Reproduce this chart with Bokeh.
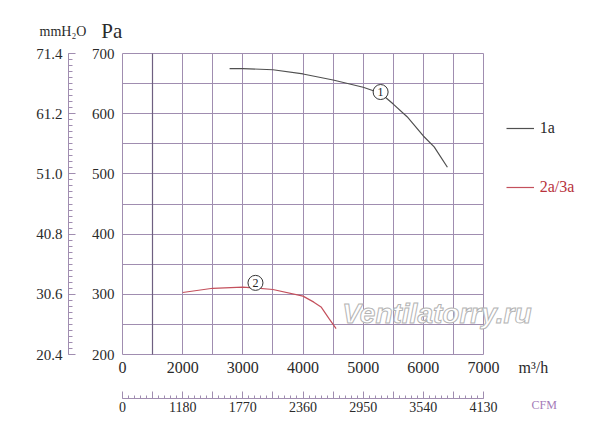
from bokeh.plotting import figure
from bokeh.models import (Range1d, LinearAxis, FixedTicker, Grid, Label, Legend,
                          LegendItem, PrintfTickFormatter)
from bokeh.core.properties import value
from bokeh.embed import file_html
from bokeh.resources import INLINE

# ---- data ----
flow1 = [2780, 3000, 3500, 4000, 4500, 5000, 5290, 5500, 5730, 6000, 6180, 6400]
pa1 = [675, 675, 673, 666, 656, 644, 634, 616, 595, 563, 545, 511]

flow2 = [2000, 2500, 3000, 3500, 4000, 4180, 4300, 4430, 4550]
pa2 = [303, 310, 312, 308, 297, 287, 279, 260, 243]

mark_flow = [5290, 3210]
mark_pa = [636, 319]
mark_text = ["1", "2"]

flow_ticks = [1000, 2000, 3000, 4000, 5000, 6000, 7000]
flow_labels = ["0", "2000", "3000", "4000", "5000", "6000", "7000"]
pa_ticks = [200, 300, 400, 500, 600, 700]
mm_ticks = [20.4, 30.6, 40.8, 51.0, 61.2, 71.4]
cfm_ticks = [590, 1180, 1770, 2360, 2950, 3540, 4130]
cfm_labels = ["0", "1180", "1770", "2360", "2950", "3540", "4130"]

series_names = ["1a", "2a/3a"]
unit_flow = "m\u00b3/h"
unit_cfm = "CFM"
unit_mm = "mmH\u2082O"
unit_pa = "Pa"

# ---- layout / style ----
W, H = 584, 426
BL, BT, BB = 121, 52, 71
GRID_W_PX, GRID_H_PX = 361, 301      # pixel size of the gridded box
FRAME_W = W - BL                     # frame runs to the right edge
kx = GRID_W_PX / (flow_ticks[-1] - flow_ticks[0])
ky = GRID_H_PX / (pa_ticks[-1] - pa_ticks[0])
pad_x, pad_y = 1 / kx, 1 / ky        # one pixel of room round the box
x_start = flow_ticks[0] - pad_x
x_end = x_start + FRAME_W / kx
y_start, y_end = pa_ticks[0] - pad_y, pa_ticks[-1] + pad_y
cfm_per_flow = 0.59
mm_per_pa = 0.102
cfm_range = (cfm_ticks[0] + (x_start - flow_ticks[0]) * cfm_per_flow,
             cfm_ticks[0] + (x_end - flow_ticks[0]) * cfm_per_flow)
mm_range = (mm_ticks[0] - pad_y * mm_per_pa, mm_ticks[-1] + pad_y * mm_per_pa)

GRID = "#a08db0"
GRID_DARK = "#6e5f80"
TXT = "#2a2a2a"
SERIF = "Liberation Serif"
C1 = "#505050"
C2 = "#c4505c"

p = figure(width=W, height=H, output_backend="svg", toolbar_location=None,
           x_range=Range1d(x_start, x_end), y_range=Range1d(y_start, y_end),
           min_border_left=BL, min_border_right=0,
           min_border_top=BT, min_border_bottom=BB)
p.background_fill_color = "white"
p.border_fill_color = "white"
p.outline_line_color = None

p.extra_y_ranges = {"mm": Range1d(*mm_range)}
p.extra_x_ranges = {"cfm": Range1d(*cfm_range)}

# grids: every half step, limited to the chart box
half_flow = [flow_ticks[0] + 500 * i for i in range(13)]
half_pa = [pa_ticks[0] + 50 * i for i in range(11)]
xg, yg = p.xgrid[0], p.ygrid[0]
xg.ticker = FixedTicker(ticks=half_flow)
yg.ticker = FixedTicker(ticks=half_pa)
xg.bounds = (flow_ticks[0] - 1, flow_ticks[-1] + 1)
yg.bounds = (pa_ticks[0] - 1, pa_ticks[-1] + 1)
yg.cross_bounds = (flow_ticks[0], flow_ticks[-1])
xg.cross_bounds = (pa_ticks[0], pa_ticks[-1])
for g in (xg, yg):
    g.grid_line_color = GRID
    g.grid_line_width = 1
dark = Grid(dimension=0, ticker=FixedTicker(ticks=[half_flow[1]]),
            bounds=(flow_ticks[0], flow_ticks[-1]),
            cross_bounds=(pa_ticks[0], pa_ticks[-1]),
            grid_line_color=GRID_DARK, grid_line_width=1.2)
p.add_layout(dark)

# Pa axis (inner left)
ya = p.yaxis[0]
ya.ticker = FixedTicker(ticks=pa_ticks)
ya.axis_line_color = None
ya.major_tick_line_color = None
ya.minor_tick_line_color = None
ya.major_tick_out = 0
ya.major_tick_in = 0
ya.minor_tick_out = 0
ya.minor_tick_in = 0
ya.major_label_standoff = 7
ya.major_label_text_font = SERIF
ya.major_label_text_font_size = "15px"
ya.major_label_text_color = TXT
ya.axis_label = " "
ya.axis_label_text_font_size = "12px"
ya.axis_label_standoff = 3

# mmH2O axis (outer left)
mm_minor = [mm_ticks[0] + 1.02 * i for i in range(51)]
mm_axis = LinearAxis(y_range_name="mm", bounds=(mm_ticks[0], mm_ticks[-1]),
                     ticker=FixedTicker(ticks=mm_ticks, minor_ticks=mm_minor),
                     formatter=PrintfTickFormatter(format="%.1f"))
mm_axis.axis_line_color = GRID
mm_axis.major_tick_line_color = GRID
mm_axis.minor_tick_line_color = GRID
mm_axis.major_tick_out = 0
mm_axis.major_tick_in = 7
mm_axis.minor_tick_out = 0
mm_axis.minor_tick_in = 4
mm_axis.major_label_standoff = 6
mm_axis.major_label_text_font = SERIF
mm_axis.major_label_text_font_size = "15px"
mm_axis.major_label_text_color = TXT
p.add_layout(mm_axis, "left")

# m3/h axis (inner below), unit written as an extra label past the last tick
unit_tick = 7830
xa = p.xaxis[0]
xa.ticker = FixedTicker(ticks=flow_ticks + [unit_tick])
over = dict(zip(flow_ticks, flow_labels))
over[unit_tick] = unit_flow
xa.major_label_overrides = over
xa.axis_line_color = None
xa.major_tick_line_color = None
xa.minor_tick_line_color = None
xa.major_tick_out = 0
xa.major_tick_in = 0
xa.minor_tick_out = 0
xa.minor_tick_in = 0
xa.major_label_standoff = 3
xa.major_label_text_font = SERIF
xa.major_label_text_font_size = "16px"
xa.major_label_text_color = TXT
xa.axis_label = " "
xa.axis_label_text_font_size = "10px"
xa.axis_label_standoff = 6

# CFM axis (outer below)
cfm_major = [cfm_ticks[0] + 295 * i for i in range(13)]
cfm_minor = [cfm_ticks[0] + 59 * i for i in range(61)]
cfm_over = {t: "" for t in cfm_major}
cfm_over.update(dict(zip(cfm_ticks, cfm_labels)))
cfm_axis = LinearAxis(x_range_name="cfm", bounds=(cfm_ticks[0], cfm_ticks[-1]),
                      ticker=FixedTicker(ticks=cfm_major, minor_ticks=cfm_minor))
cfm_axis.major_label_overrides = cfm_over
cfm_axis.axis_line_color = GRID
cfm_axis.major_tick_line_color = GRID
cfm_axis.minor_tick_line_color = GRID
cfm_axis.major_tick_out = 0
cfm_axis.major_tick_in = 7
cfm_axis.minor_tick_out = 0
cfm_axis.minor_tick_in = 3
cfm_axis.major_label_standoff = 3
cfm_axis.major_label_text_font = SERIF
cfm_axis.major_label_text_font_size = "14px"
cfm_axis.major_label_text_color = TXT
p.add_layout(cfm_axis, "below")

# curves
r1 = p.line(flow1, pa1, line_color=C1, line_width=1.2)
r2 = p.line(flow2, pa2, line_color=C2, line_width=1.2)

# circled numbers
p.scatter(mark_flow, mark_pa, marker="circle", size=15, fill_color="white",
          line_color="#333333", line_width=1)
p.text(mark_flow, mark_pa, text=mark_text, text_align="center",
       text_baseline="middle", text_font=value(SERIF),
       text_font_size="12px", text_color="#222222")

# legends (inside the widened frame)
for name, r, col, loc in [(series_names[0], r1, TXT, (384.7, 217.3)),
                          (series_names[1], r2, "#b8323c", (384.7, 158.5))]:
    lg = Legend(items=[LegendItem(label=name, renderers=[r])], location=loc,
                padding=0, margin=0, border_line_color=None,
                background_fill_alpha=0, glyph_width=28, glyph_height=20,
                label_height=20, label_standoff=6, label_text_font=SERIF,
                label_text_font_size="16px", label_text_color=col)
    p.add_layout(lg)

# watermark (outlined light text)
wm_kw = dict(text="Ventilatorry.ru", x=220.7, y=27, x_units="screen",
             y_units="screen", text_font="Liberation Sans",
             text_font_style="bold italic", text_font_size="28px")
try:
    wm = Label(text_color="white", text_outline_color="#b4b4b4", **wm_kw)
except Exception:
    wm = Label(text_color="#d6d6d6", **wm_kw)
p.add_layout(wm)

# unit titles outside the frame (side panels)
def side_label(text, x, y, size, side, color=TXT):
    p.add_layout(Label(text=text, x=x, y=y, x_units="screen", y_units="screen",
                       text_font=SERIF, text_font_size=size, text_color=color,
                       text_align="left", text_baseline="alphabetic"), side)

side_label(unit_pa, -20.3, 22, "21px", "above")
side_label(unit_mm, -82, -3.3, "14px", "above")
side_label(unit_cfm, 523, -49, "12px", "left", color="#a47ab8")

open("out.html", "w").write(file_html(p, INLINE))
